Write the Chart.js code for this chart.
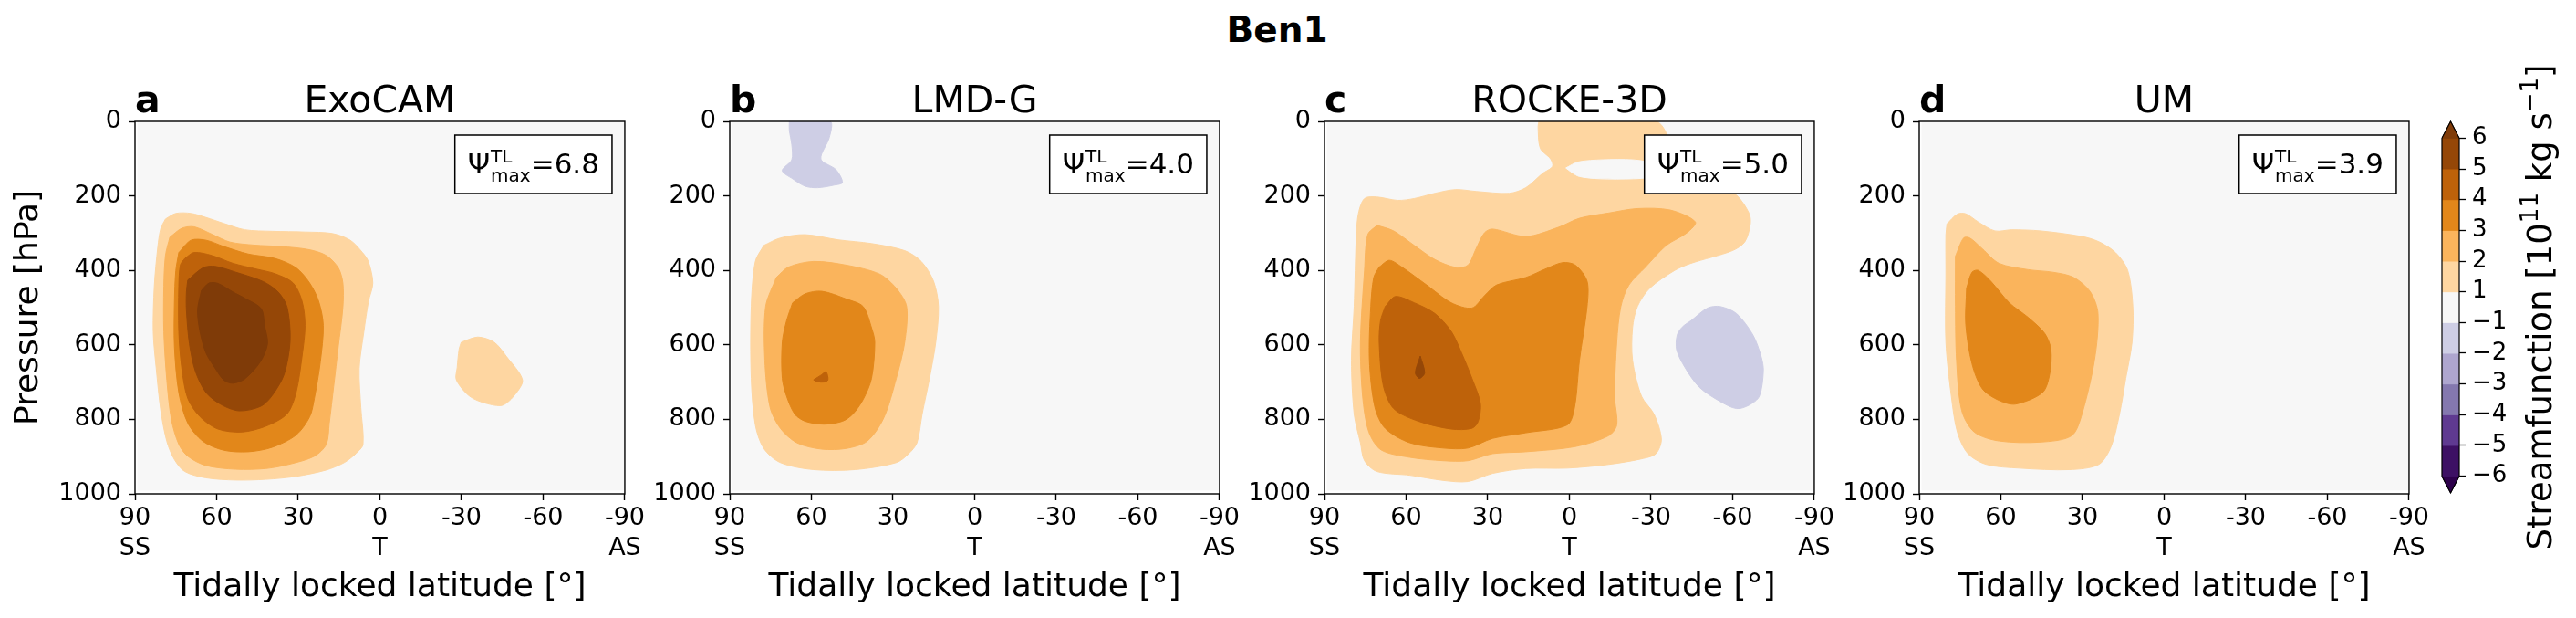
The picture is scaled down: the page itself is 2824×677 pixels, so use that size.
<!DOCTYPE html>
<html>
<head>
<meta charset="utf-8">
<script src="https://cdn.jsdelivr.net/npm/chart.js@4.4.1/dist/chart.umd.min.js"></script>
<style>
html,body{margin:0;padding:0;background:#fff;}
body{width:2824px;height:677px;position:relative;overflow:hidden;font-family:'DejaVu Sans',sans-serif;}
canvas{position:absolute;top:0;}
#suptitle{position:absolute;left:1300px;width:200px;text-align:center;top:13px;font-weight:bold;font-size:39px;line-height:40px;font-family:'DejaVu Sans',sans-serif;color:#000;}
</style>
</head>
<body>
<div id="suptitle">Ben1</div>
<canvas id="p0" width="711" height="677" style="left:0px"></canvas>
<canvas id="p1" width="711" height="677" style="left:652px"></canvas>
<canvas id="p2" width="711" height="677" style="left:1304px"></canvas>
<canvas id="p3" width="711" height="677" style="left:1956px"></canvas>
<canvas id="cb" width="224" height="677" style="left:2600px"></canvas>
<script>
// ---------------- data ----------------
const modelNames = ['ExoCAM', 'LMD-G', 'ROCKE-3D', 'UM'];
const panelLetters = ['a', 'b', 'c', 'd'];
const psiMax = [6.8, 4.0, 5.0, 3.9];
const latTicks = [90, 60, 30, 0, -30, -60, -90];
const latTickNames = ['SS', '', '', 'T', '', '', 'AS'];
const pressureTicks = [0, 200, 400, 600, 800, 1000];
const cbTickLabels = ['\u22126', '\u22125', '\u22124', '\u22123', '\u22122', '\u22121', '1', '2', '3', '4', '5', '6'];
// colours of the bands: under, [-6,-5) ... [-1,1) ... [5,6), over
const cbColors = ['#2d004b', '#3d1064', '#5f3a91', '#8478af', '#aea6cf', '#cecee5', '#f7f7f7',
                  '#fed6a1', '#fab45c', '#e2871a', '#be620a', '#954707', '#7f3b08'];

// data domain (lat, pressure) covered by the model output
const domainBox = [[89, 0], [-89.5, 0], [-89.5, 990], [89, 990]];

// contour polygons [latitude, pressure hPa]
const exoL1 = [[78.8,262],[75.0,247],[69.4,247],[63.9,258],[57.3,274],[49.6,291],[39.6,295],[27.4,297],[17.5,301],[10.9,319],[6.4,352],[4.2,377],[2.6,434],[4.2,483],[5.9,565],[7.6,663],[7.0,769],[6.2,867],[8.7,891],[13.1,916],[19.7,936],[30.8,953],[41.8,961],[52.9,963],[63.9,957],[71.7,940],[75.5,908],[78.3,859],[80.5,777],[82.2,663],[83.3,565],[82.9,442],[81.6,336],[80.5,287]];
const exoBlob = [[-29.9,593],[-36,579],[-42,593],[-46.6,632],[-52.4,694],[-49.7,733],[-45.1,762],[-39,757],[-33,738],[-28.1,694],[-28.4,661],[-29.1,612]];
const exoL2 = [[77.2,311],[72.8,287],[68.3,283],[61.7,303],[55.1,324],[46.2,332],[36.3,336],[26.3,344],[19.7,360],[15.3,393],[13.6,434],[13.6,499],[15.3,605],[17.0,712],[18.6,810],[19.7,867],[24.1,899],[33.0,920],[41.8,932],[52.9,934],[63.9,924],[70.6,899],[73.9,867],[76.6,801],[78.3,695],[79.4,565],[79.4,442],[78.8,360]];
const exoL3 = [[73.9,352],[69.4,319],[63.9,319],[57.3,336],[48.4,356],[38.5,368],[30.8,393],[25.8,434],[22.5,483],[20.8,548],[21.9,646],[24.1,744],[25.8,793],[30.8,842],[39.6,875],[48.4,887],[57.3,883],[65.0,859],[70.6,810],[73.9,728],[75.5,605],[75.5,483],[75.0,401]];
const exoL4 = [[71.7,368],[68.3,352],[61.7,360],[54.0,381],[45.1,397],[38.5,409],[31.9,434],[28.6,483],[27.5,548],[28.6,630],[30.8,728],[34.1,785],[41.8,818],[50.7,834],[59.5,826],[66.1,793],[70.6,744],[72.8,663],[73.9,565],[73.9,442],[73.3,385]];
const exoL5 = [[70.6,426],[65.0,393],[60.6,389],[52.9,405],[42.9,430],[37.4,458],[34.1,499],[33.0,589],[35.2,679],[39.6,736],[43.8,765],[51.7,777],[58.4,760],[63.9,728],[67.8,671],[70.0,597],[71.1,507],[71.1,458]];
const exoL6 = [[65.6,454],[62.8,434],[59.5,435],[54.0,458],[49.6,475],[43.6,503],[42.4,548],[41.3,597],[44.0,646],[49.6,691],[54.0,703],[57.3,695],[60.6,662],[63.9,622],[66.1,565],[67.0,507]];

const lmdN1 = [[68.1,0],[53.1,0],[53.4,43],[56.5,101],[50.9,130],[48.6,164],[51.6,171],[57.7,178],[62.3,174],[66.9,154],[70.7,132],[67.2,103],[67.2,63],[68.1,24]];
const lmdL1 = [[77.5,333],[71.4,313],[62.3,304],[50.1,318],[37.9,328],[25.7,347],[19.6,376],[15.1,429],[13.3,497],[14.3,593],[16.6,690],[19.3,786],[21.2,863],[24.2,892],[28.8,916],[44.0,935],[59.2,935],[71.4,916],[77.5,878],[80.6,815],[82.1,690],[82.1,497],[80.6,376]];
const lmdL2 = [[72.9,419],[68.4,391],[59.2,376],[47.1,386],[34.9,410],[28.8,448],[25.0,497],[25.7,593],[28.8,690],[33.4,796],[39.4,858],[47.1,878],[56.2,880],[65.3,863],[71.4,824],[75.2,767],[77.1,641],[76.8,497]];
const lmdL3 = [[66.9,487],[62.3,463],[56.2,456],[47.1,477],[41.0,497],[37.9,554],[36.7,593],[37.9,690],[41.0,747],[44.8,786],[48.6,805],[55.4,813],[62.3,805],[66.1,786],[69.1,738],[70.7,690],[70.7,593],[69.1,535]];
const lmdL4 = [[59.2,694],[56.2,680],[54.6,672],[53.9,694],[55.4,700],[57.7,699]];

const rockeL1 = [[11.2,0],[-31.8,0],[-38.7,72],[-50.8,149],[-61.4,198],[-66.0,246],[-66.5,275],[-64.5,323],[-59.9,347],[-44.7,381],[-38.7,400],[-29.5,448],[-25.0,497],[-23.2,554],[-23.2,641],[-26.5,738],[-31.1,786],[-33.8,853],[-31.8,892],[-26.5,906],[-14.4,921],[0.8,931],[16.0,932],[28.2,945],[37.3,967],[46.4,964],[58.6,950],[70.7,940],[75.3,911],[76.8,863],[79.1,786],[80.1,641],[79.1,497],[78.3,304],[77.5,246],[75.3,207],[70.7,203],[63.1,212],[57.0,207],[49.4,193],[41.8,183],[34.3,188],[22.1,193],[16.0,178],[9.9,140],[6.2,121],[6.9,101],[10.7,72],[11.5,14]];
const rockeHole = [[1.3,125],[-3.2,109],[-12.3,103],[-23.0,103],[-29.6,111],[-33,130],[-29.6,149],[-23.5,154],[-11.3,154],[-3.7,148],[-0.9,137]];
const rockeN1 = [[-44.7,535],[-50.8,501],[-55.4,497],[-61.4,516],[-67.5,574],[-70.5,632],[-71.3,670],[-69.8,738],[-66.0,762],[-61.4,771],[-55.4,752],[-47.8,714],[-42.5,661],[-39.4,613],[-39.6,574],[-41.5,552]];
const rockeL2 = [[70.7,279],[64.6,294],[57.0,333],[49.4,371],[41.8,392],[37.3,386],[34.3,342],[31.2,299],[28.2,289],[16.0,309],[3.9,284],[-3.7,260],[-14.4,246],[-25.0,234],[-37.1,238],[-46.3,270],[-43.2,299],[-35.6,333],[-28.0,391],[-21.9,439],[-18.9,497],[-17.4,593],[-16.6,738],[-17.4,815],[-14.4,844],[-2.2,873],[16.0,887],[28.2,892],[37.3,911],[46.4,911],[58.6,902],[69.2,882],[73.7,834],[76.0,738],[76.8,593],[75.3,400],[74.1,304]];
const rockeL3 = [[69.9,391],[66.2,373],[61.6,391],[52.5,439],[43.4,487],[35.8,501],[31.2,468],[26.7,439],[16.0,419],[8.4,395],[2.4,379],[-2.2,386],[-6.5,429],[-6.5,497],[-3.7,641],[-1.9,767],[0.8,815],[16.0,836],[28.2,851],[37.3,877],[46.4,877],[58.6,863],[67.7,824],[71.5,767],[73.5,641],[73.0,497],[71.9,419]];
const rockeL4 = [[67.7,497],[63.9,470],[57.0,487],[49.4,516],[43.4,564],[39.6,622],[35.8,690],[32.7,757],[33.5,805],[35.8,824],[43.4,826],[55.5,805],[64.6,771],[68.4,709],[69.9,593],[69.4,535]];
const rockeL5 = [[54.8,630],[53.2,675],[55.1,690],[56.6,675]];

const umL1 = [[79.8,275],[76.0,249],[72.9,248],[68.3,270],[62.2,294],[56.1,291],[45.4,294],[30.2,309],[24.0,323],[17.9,352],[13.4,400],[11.5,497],[11.8,593],[14.1,690],[16.4,786],[19.5,873],[24.0,921],[34.7,935],[53.1,931],[65.3,921],[72.1,892],[76.0,834],[78.2,738],[80.2,593],[80.2,400],[80.2,304]];
const umL2 = [[76.7,362],[73.7,313],[71.4,313],[66.8,342],[60.7,381],[50.0,398],[40.8,405],[33.2,419],[27.1,458],[24.3,516],[25.6,641],[30.2,786],[34.0,844],[45.4,861],[60.7,858],[69.8,834],[74.4,776],[76.3,641],[76.7,497]];
const umL3 = [[72.6,448],[70.6,405],[68.3,400],[63.7,429],[56.9,487],[50.0,526],[43.9,569],[41.6,612],[42.1,680],[44.7,728],[54.6,759],[60.7,749],[66.8,718],[70.6,651],[72.9,545]];

// layers per panel: [polygon, colour band index], bottom first
const exoLayers = [[domainBox,6],[exoL1,7],[exoBlob,7],[exoL2,8],[exoL3,9],[exoL4,10],[exoL5,11],[exoL6,12]];
const lmdLayers = [[domainBox,6],[lmdN1,5],[lmdL1,7],[lmdL2,8],[lmdL3,9],[lmdL4,10]];
const rockeLayers = [[domainBox,6],[rockeL1,7],[rockeHole,6],[rockeN1,5],[rockeL2,8],[rockeL3,9],[rockeL4,10],[rockeL5,11]];
const umLayers = [[domainBox,6],[umL1,7],[umL2,8],[umL3,9]];
const panelLayers = [exoLayers, lmdLayers, rockeLayers, umLayers];

// ---------------- drawing ----------------
Chart.defaults.font.family = "'DejaVu Sans', sans-serif";
Chart.defaults.color = '#000';
const FONT = "'DejaVu Sans', sans-serif";

function polyDataset(poly, band, order, tension) {
  const pts = poly.map(([x, y]) => ({x, y}));
  pts.push({x: poly[0][0], y: poly[0][1]});
  return {
    data: pts, showLine: true, fill: 'shape',
    backgroundColor: cbColors[band], borderColor: cbColors[band], borderWidth: 1,
    pointRadius: 0, pointHoverRadius: 0, tension: tension, order: order
  };
}

const panelDecor = {
  id: 'panelDecor',
  afterDatasetsDraw(chart, args, opts) {
    const ctx = chart.ctx, a = chart.chartArea;
    ctx.save();
    // frame
    ctx.strokeStyle = '#000'; ctx.lineWidth = 1.4;
    ctx.strokeRect(a.left, a.top, a.right - a.left, a.bottom - a.top);
    // psi box
    const mainF = '31px ' + FONT, scrF = '20px ' + FONT;
    ctx.font = mainF; const wPsi = ctx.measureText('\u03A8').width;
    const eq = '=' + opts.psi;
    const wEq = ctx.measureText(eq).width;
    ctx.font = scrF; const wSup = ctx.measureText('TL').width, wSub = ctx.measureText('max').width;
    const wScr = Math.max(wSup, wSub);
    const total = wPsi + wScr + wEq;
    const boxRight = a.right - 14, boxTop = a.top + 15, boxH = 64;
    const textLeft = boxRight - 15 - total, boxLeft = textLeft - 14;
    ctx.fillStyle = '#fff';
    ctx.fillRect(boxLeft, boxTop, boxRight - boxLeft, boxH);
    ctx.lineWidth = 1.5;
    ctx.strokeRect(boxLeft, boxTop, boxRight - boxLeft, boxH);
    ctx.fillStyle = '#000'; ctx.textBaseline = 'alphabetic'; ctx.textAlign = 'left';
    ctx.font = mainF; ctx.fillText('\u03A8', textLeft, boxTop + 42);
    ctx.font = scrF;
    ctx.fillText('TL', textLeft + wPsi + 1, boxTop + 30);
    ctx.fillText('max', textLeft + wPsi + 1, boxTop + 51);
    ctx.font = mainF; ctx.fillText(eq, textLeft + wPsi + wScr + 1, boxTop + 42);
    // titles
    ctx.font = '41px ' + FONT; ctx.textAlign = 'center';
    ctx.fillText(opts.name, (a.left + a.right) / 2, a.top - 10);
    ctx.font = 'bold 41px ' + FONT; ctx.textAlign = 'left';
    ctx.fillText(opts.letter, a.left, a.top - 10);
    ctx.restore();
  }
};

function makePanel(i) {
  const layers = panelLayers[i];
  const datasets = layers.map(([poly, band], k) => polyDataset(poly, band, -k, poly === domainBox ? 0 : 0.3));
  const gridOpts = {display: true, drawOnChartArea: false, drawTicks: true, tickLength: 7, tickWidth: 1.4, tickColor: '#000'};
  new Chart(document.getElementById('p' + i), {
    type: 'scatter',
    data: {datasets},
    options: {
      responsive: false, animation: false, devicePixelRatio: 1, events: [],
      layout: {padding: {left: 0, top: 133, right: 20, bottom: 0}},
      plugins: {
        legend: {display: false}, tooltip: {enabled: false}, title: {display: false},
        panelDecor: {name: modelNames[i], letter: panelLetters[i], psi: psiMax[i].toFixed(1)}
      },
      scales: {
        x: {
          type: 'linear', min: -90, max: 90, reverse: true,
          afterFit: s => { s.height = 136; },
          afterBuildTicks: s => { s.ticks = latTicks.map(v => ({value: v})); },
          grid: gridOpts, border: {display: false},
          ticks: {
            font: {size: 27}, color: '#000', padding: 4, maxRotation: 0, autoSkip: false,
            callback: v => { const k = latTicks.indexOf(v); const n = latTickNames[k]; return n ? [String(v), n] : String(v); }
          },
          title: {display: true, text: 'Tidally locked latitude [\u00B0]', font: {size: 36}, color: '#000', padding: {top: 0, bottom: 12}}
        },
        y: {
          type: 'linear', min: 0, max: 1000, reverse: true,
          afterFit: s => { s.width = 148; },
          afterBuildTicks: s => { s.ticks = pressureTicks.map(v => ({value: v})); },
          grid: gridOpts, border: {display: false},
          ticks: {font: {size: 27}, color: '#000', padding: 8, callback: v => String(v)},
          title: {display: i === 0, text: 'Pressure [hPa]', font: {size: 36}, color: '#000', padding: {top: 10, bottom: 0}}
        }
      }
    },
    plugins: [panelDecor]
  });
}
for (let i = 0; i < 4; i++) makePanel(i);

// ---------------- colour bar ----------------
const cbExtend = 0.545;
const cbDatasets = cbColors.map((c, k) => {
  let poly;
  const n = cbTickLabels.length - 1;
  if (k === 0) poly = [[0, 0], [1, 0], [0.5, -cbExtend]];
  else if (k === cbColors.length - 1) poly = [[0, n], [1, n], [0.5, n + cbExtend]];
  else poly = [[0, k - 1], [1, k - 1], [1, k], [0, k]];
  return polyDataset(poly, k, -k, 0);
});
const cbDecor = {
  id: 'cbDecor',
  afterDatasetsDraw(chart) {
    const ctx = chart.ctx, xs = chart.scales.x, ys = chart.scales.y;
    const n = cbTickLabels.length - 1;
    const P = (x, y) => [xs.getPixelForValue(x), ys.getPixelForValue(y)];
    const path = [P(0, 0), P(0.5, -cbExtend), P(1, 0), P(1, n), P(0.5, n + cbExtend), P(0, n)];
    ctx.save();
    ctx.strokeStyle = '#000'; ctx.lineWidth = 1.2;
    ctx.beginPath(); ctx.moveTo(path[0][0], path[0][1]);
    for (let k = 1; k < path.length; k++) ctx.lineTo(path[k][0], path[k][1]);
    ctx.closePath(); ctx.stroke();
    // rotated label with superscripts
    const segs = [['Streamfunction [10', 0], ['11', 1], [' kg s', 0], ['\u22121', 1], [']', 0]];
    const mainF = '37px ' + FONT, supF = '26px ' + FONT;
    let total = 0;
    const widths = segs.map(([t, sup]) => { ctx.font = sup ? supF : mainF; const w = ctx.measureText(t).width; total += w; return w; });
    ctx.translate(197, (chart.chartArea.top + chart.chartArea.bottom) / 2);
    ctx.rotate(-Math.PI / 2);
    ctx.fillStyle = '#000'; ctx.textBaseline = 'alphabetic'; ctx.textAlign = 'left';
    let x = -total / 2;
    segs.forEach(([t, sup], k) => {
      ctx.font = sup ? supF : mainF;
      ctx.fillText(t, x, sup ? -15 : 0);
      x += widths[k];
    });
    ctx.restore();
  }
};
new Chart(document.getElementById('cb'), {
  type: 'scatter',
  data: {datasets: cbDatasets},
  options: {
    responsive: false, animation: false, devicePixelRatio: 1, events: [],
    layout: {padding: {left: 77, top: 133, right: 0, bottom: 137}},
    plugins: {legend: {display: false}, tooltip: {enabled: false}},
    scales: {
      x: {type: 'linear', min: 0, max: 1, display: false},
      y: {
        type: 'linear', position: 'right', min: -cbExtend, max: cbTickLabels.length - 1 + cbExtend,
        afterFit: s => { s.width = 128; },
        afterBuildTicks: s => { s.ticks = cbTickLabels.map((_, k) => ({value: k})); },
        grid: {display: true, drawOnChartArea: false, drawTicks: true, tickLength: 7, tickWidth: 1.3, tickColor: '#000'},
        border: {display: false},
        ticks: {font: {size: 26}, color: '#000', padding: 7, callback: v => cbTickLabels[v]}
      }
    }
  },
  plugins: [cbDecor]
});
</script>
</body>
</html>
